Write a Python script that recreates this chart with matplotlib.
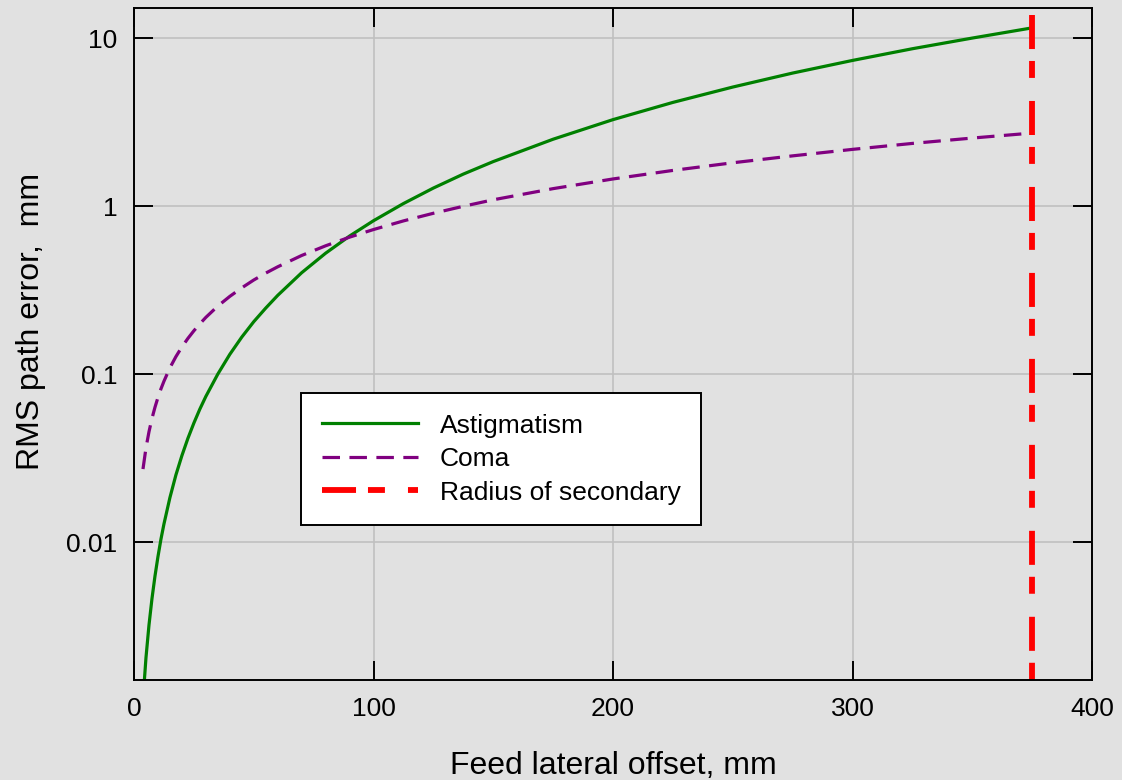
import matplotlib
matplotlib.use("Agg")
import matplotlib.pyplot as plt

# values
offset_mm = [3.75, 5, 6.25, 7.5, 8.75, 10, 11.25, 12.5, 15, 17.5, 20, 22.5,
             25, 27.5, 30, 35, 40, 45, 50, 55, 60, 70, 80, 90, 100, 112.5,
             125, 137.5, 150, 175, 200, 225, 250, 275, 300, 325, 350, 375]
astigmatism = [0.00115, 0.00205, 0.0032, 0.0046, 0.00626, 0.00818, 0.0104,
               0.0128, 0.0184, 0.0251, 0.0327, 0.0414, 0.0511, 0.0619,
               0.0736, 0.100, 0.131, 0.166, 0.205, 0.247, 0.294, 0.401,
               0.524, 0.663, 0.818, 1.035, 1.28, 1.55, 1.84, 2.50, 3.27,
               4.14, 5.11, 6.19, 7.36, 8.64, 10.0, 11.5]
coma = [0.0272, 0.0363, 0.0453, 0.0544, 0.0634, 0.0725, 0.0816, 0.0906,
        0.109, 0.127, 0.145, 0.163, 0.181, 0.199, 0.2175, 0.254, 0.290,
        0.326, 0.363, 0.399, 0.435, 0.508, 0.580, 0.653, 0.725, 0.816,
        0.906, 0.997, 1.09, 1.27, 1.45, 1.63, 1.81, 1.99, 2.175, 2.36,
        2.54, 2.72]
secondary_x = [375, 375]
secondary_y = [13.7, 0.0015]

xticks = [0, 100, 200, 300, 400]
yticks = [0.01, 0.1, 1, 10]
ytick_labels = ['0.01', '0.1', '1', '10']

plt.rcParams['font.family'] = ['Liberation Sans', 'DejaVu Sans']
plt.rcParams['lines.scale_dashes'] = False

bg = '#e1e1e1'
fig = plt.figure(figsize=(11.22, 7.8), dpi=100, facecolor=bg)
ax = fig.add_axes([134 / 1122, 1 - 680 / 780, 958 / 1122, 672 / 780])
ax.set_facecolor(bg)

ax.plot(offset_mm, astigmatism, color='#008000', lw=2.3, label='Astigmatism')
ax.plot(offset_mm, coma, color='#800080', lw=2.3,
        linestyle=(0, (12.6, 6.8)), label='Coma')
ax.plot(secondary_x, secondary_y, color='#ff0000', lw=4.2,
        linestyle=(0, (24.5, 8.6, 12.2, 16.6)), label='Radius of secondary')

ax.set_yscale('log')
ax.set_xlim(0, 400)
ax.set_ylim(0.00151, 15.1)
ax.set_xticks(xticks)
ax.set_yticks(yticks, ytick_labels)
ax.yaxis.set_minor_locator(matplotlib.ticker.NullLocator())

ax.grid(True, color='#c0c0c0', lw=1.2)
ax.set_axisbelow(True)
ax.tick_params(which='major', direction='in', length=13.7, width=1.4,
               top=True, right=True, labelsize=19, color='black')
ax.tick_params(axis='y', pad=12)
ax.tick_params(axis='x', pad=12)
for s in ax.spines.values():
    s.set_linewidth(1.4)

ax.set_xlabel('Feed lateral offset, mm', fontsize=23)
ax.set_ylabel('RMS path error,  mm', fontsize=23)
ax.xaxis.set_label_coords(0.5, -0.106)
ax.yaxis.set_label_coords(-0.092, 0.533)

leg = ax.legend(loc='upper left', bbox_to_anchor=(0.1743, 0.4271),
                borderaxespad=0, fontsize=19, handlelength=3.64,
                handletextpad=0.84, labelspacing=0.36, borderpad=0.78,
                fancybox=False, framealpha=1, edgecolor='black')
leg.get_frame().set_linewidth(1.4)

fig.savefig('out.png', dpi=100, facecolor=bg)
